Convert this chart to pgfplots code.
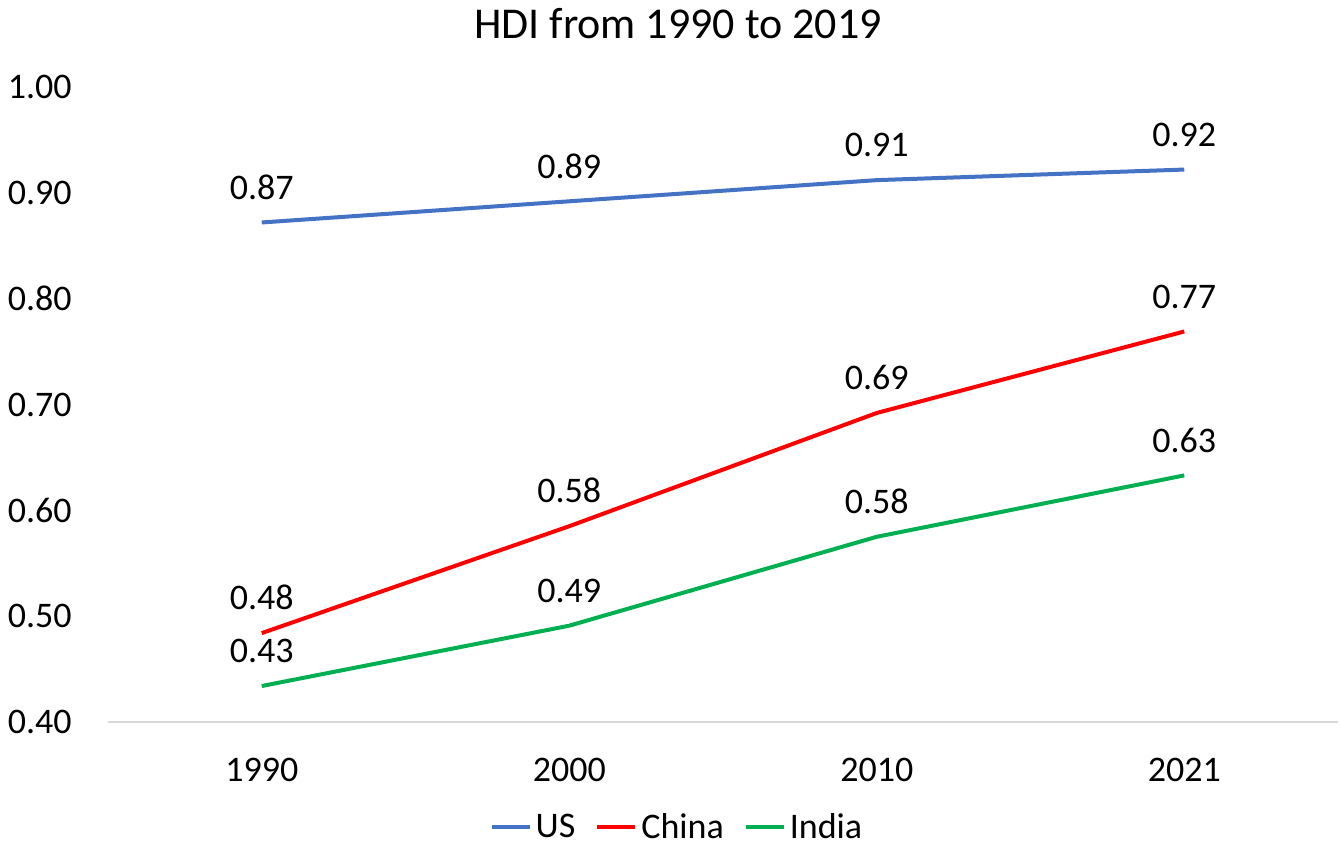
\documentclass[border=0pt]{standalone}
\usepackage{pgfplots}
\pgfplotsset{compat=1.18}
\usepackage{fontspec}
\setmainfont{Carlito}
\definecolor{usblue}{HTML}{4472C4}
\definecolor{cnred}{HTML}{FF0000}
\definecolor{ingreen}{HTML}{00B050}
\definecolor{axgray}{HTML}{D9D9D9}
\begin{document}
\begin{tikzpicture}
\useasboundingbox (-54pt,-62.5pt) rectangle (616.5pt,361pt);
\begin{axis}[
  scale only axis,
  width=615pt, height=317.5pt,
  xmin=-0.5, xmax=3.5,
  ymin=0.4, ymax=1.0,
  xtick={0,1,2,3},
  xticklabels={1990,2000,2010,2021},
  ytick={0.4,0.5,0.6,0.7,0.8,0.9,1.0},
  axis line style={draw=none},
  major tick length=0pt,
  tick style={draw=none},
  clip=false,
  /pgf/number format/assume math mode=true,
  tick label style={font=\fontsize{18}{20}\selectfont},
  yticklabel style={anchor=east, inner sep=0pt, xshift=-18pt,
    /pgf/number format/.cd, fixed, fixed zerofill, precision=2},
  xticklabel style={anchor=north, inner sep=0pt, yshift=-18pt},
  legend columns=-1,
  legend style={at={(axis description cs:0.4634,-0.1654)}, anchor=center, draw=none, fill=none,
    font=\fontsize{18}{20}\selectfont,
    /tikz/every even column/.append style={column sep=8pt}},
  legend image code/.code={\draw[#1, line width=2pt] (0pt,0pt) -- (19pt,0pt);},
  nodes near coords,
  point meta=explicit symbolic,
  every node near coord/.append style={anchor=south, inner sep=0pt, yshift=10.5pt, font=\fontsize{18}{20}\selectfont, text=black},
]
\draw[axgray, line width=0.9pt] (axis cs:-0.5,0.4) -- (axis cs:3.5,0.4);
\node[anchor=base, inner sep=0pt, font=\fontsize{22}{26}\selectfont] at (axis description cs:0.4634,1.0756) {HDI from 1990 to 2019};
\addplot[usblue, line width=2pt, mark=none] coordinates {(0,0.872) [0.87] (1,0.892) [0.89] (2,0.912) [0.91] (3,0.922) [0.92]};
\addlegendentry{US}
\addplot[cnred, line width=2pt, mark=none] coordinates {(0,0.484) [0.48] (1,0.585) [0.58] (2,0.692) [0.69] (3,0.769) [0.77]};
\addlegendentry{China}
\addplot[ingreen, line width=2pt, mark=none] coordinates {(0,0.434) [0.43] (1,0.491) [0.49] (2,0.575) [0.58] (3,0.633) [0.63]};
\addlegendentry{India}
\end{axis}
\end{tikzpicture}
\end{document}
